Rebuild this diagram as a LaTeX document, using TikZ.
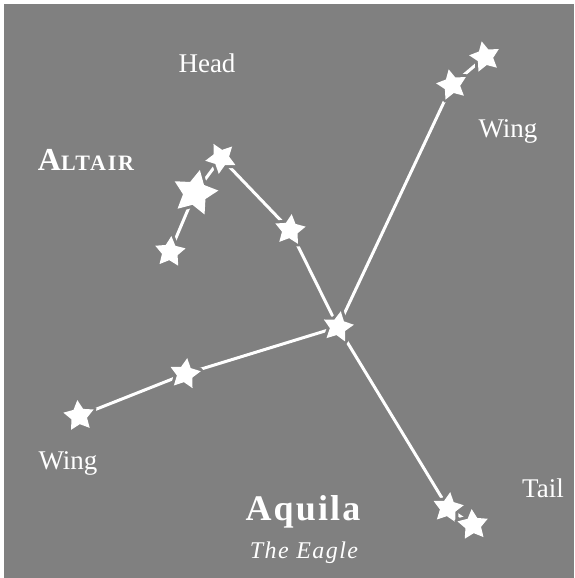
\documentclass[tikz,border=0pt]{standalone}
\usepackage{fontspec}
\setmainfont{Liberation Serif}
\usetikzlibrary{shapes.geometric}
\definecolor{skygray}{RGB}{128,128,128}
\pgfdeclarelayer{bg}
\pgfdeclarelayer{edges}
\pgfsetlayers{bg,edges,main}
\begin{document}
\begin{tikzpicture}[x=1pt,y=-1pt,
  starnode/.style={star, star points=5, star point ratio=1.95, inner sep=0pt,
    minimum size=32pt, fill=white, draw=none,
    preaction={draw=skygray, line width=6pt, line join=round}},
  bigstar/.style={starnode, minimum size=47pt},
  link/.style={draw=white, line width=3pt},
  lbl/.style={text=white, font=\fontsize{27}{27}\selectfont, anchor=base, inner sep=0pt}]
\useasboundingbox (0,0) rectangle (574,578);
\begin{pgfonlayer}{bg}
  \fill[white] (0,0) rectangle (574,578);
  \fill[skygray] (4,4) rectangle (574,578);
\end{pgfonlayer}
% stars
\node[starnode, rotate=28] (top)    at (221,158) {};
\node[bigstar, rotate=-12] (altair) at (195,193) {};
\node[starnode, rotate=-5] (bot)    at (170,252) {};
\node[starnode, rotate=-6] (neck)   at (290,230) {};
\node[starnode, rotate=-10] (ctr)   at (338,327) {};
\node[starnode, rotate=12] (rw1)    at (452,85) {};
\node[starnode, rotate=12] (rw2)    at (485,57) {};
\node[starnode, rotate=-8] (lw1)    at (185,374) {};
\node[starnode, rotate=6]  (lw2)    at (79,416) {};
\node[starnode, rotate=-8] (t1)     at (448,508) {};
\node[starnode, rotate=5]  (t2)     at (473,525) {};
% connectors
\begin{pgfonlayer}{edges}
  \draw[link] (top.center) -- (altair.center);
  \draw[link] (altair.center) -- (bot.center);
  \draw[link] (top.center) -- (neck.center);
  \draw[link] (neck.center) -- (ctr.center);
  \draw[link] (ctr.center) -- (rw1.center);
  \draw[link] (rw1.center) -- (rw2.center);
  \draw[link] (ctr.center) -- (lw1.center);
  \draw[link] (lw1.center) -- (lw2.center);
  \draw[link] (ctr.center) -- (t1.center);
  \draw[link] (t1.center) -- (t2.center);
\end{pgfonlayer}
% labels
\node[lbl] (head) at (207,72) {Head};
\node[lbl] (wingr) at (508,137) {Wing};
\node[lbl] (wingl) at (68,469) {Wing};
\node[lbl] (tail) at (543,497) {Tail};
\node[lbl, font=\bfseries\addfontfeatures{LetterSpace=8}] (altairlbl) at (86,170)
  {\fontsize{32}{32}\selectfont A\fontsize{22}{22}\selectfont LTAIR};
\node[lbl, font=\fontsize{36}{36}\selectfont\bfseries\addfontfeatures{LetterSpace=6}] (name) at (303,520) {Aquila};
\node[lbl, font=\fontsize{24}{24}\selectfont\itshape\addfontfeatures{LetterSpace=6}] (sub) at (304,558) {The Eagle};
\end{tikzpicture}
\end{document}
